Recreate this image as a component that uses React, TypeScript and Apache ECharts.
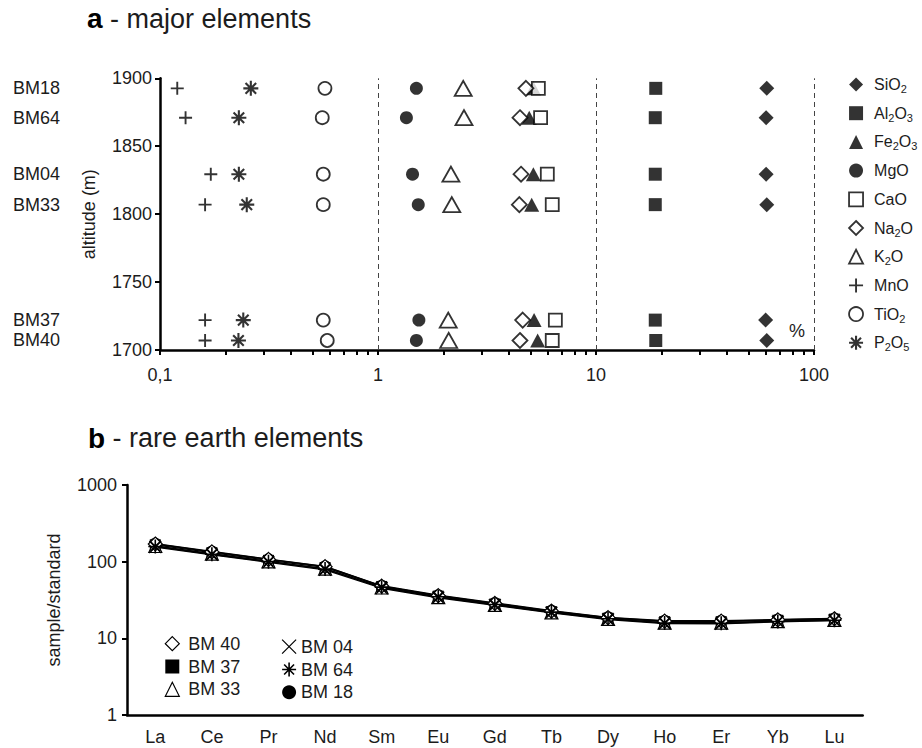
import React, { useEffect, useRef } from 'react';
import * as echarts from 'echarts';

// ---------- panel a: major elements (wt %) ----------
const samples = ['BM18', 'BM64', 'BM04', 'BM33', 'BM37', 'BM40'];
const altitudes = [1892.6, 1871, 1829.4, 1807, 1722, 1707];
const oxides = ['SiO2', 'Al2O3', 'Fe2O3', 'MgO', 'CaO', 'Na2O', 'K2O', 'MnO', 'TiO2', 'P2O5'];
const SiO2 = [60.7, 60.3, 60.3, 60.7, 60.0, 60.7];
const Al2O3 = [18.8, 18.7, 18.7, 18.7, 18.7, 18.8];
const Fe2O3 = [5.16, 4.94, 5.16, 5.07, 5.2, 5.4];
const MgO = [1.5, 1.35, 1.44, 1.53, 1.54, 1.5];
const CaO = [5.44, 5.57, 5.98, 6.3, 6.51, 6.3];
const Na2O = [4.77, 4.48, 4.53, 4.45, 4.61, 4.48];
const K2O = [2.46, 2.48, 2.16, 2.18, 2.1, 2.11];
const MnO = [0.12, 0.131, 0.171, 0.161, 0.161, 0.161];
const TiO2 = [0.571, 0.555, 0.561, 0.561, 0.561, 0.585];
const P2O5 = [0.261, 0.23, 0.23, 0.25, 0.241, 0.229];
const oxideValues = [SiO2, Al2O3, Fe2O3, MgO, CaO, Na2O, K2O, MnO, TiO2, P2O5];
const logTicks = [0.1, 0.2, 0.3, 0.4, 0.5, 0.6, 0.7, 0.8, 0.9, 1, 2, 3, 4, 5, 6, 7, 8, 9, 10, 20, 30, 40, 50, 60, 70, 80, 90, 100];
const decadeLines = [1, 10, 100];

// ---------- panel b: rare earth elements (sample/standard) ----------
const ree = ['La', 'Ce', 'Pr', 'Nd', 'Sm', 'Eu', 'Gd', 'Tb', 'Dy', 'Ho', 'Er', 'Yb', 'Lu'];
const reeSamples = ['BM 40', 'BM 37', 'BM 33', 'BM 04', 'BM 64', 'BM 18'];
const BM40 = [170, 134, 107, 86, 48, 36, 28.5, 22.6, 18.6, 16.8, 16.8, 17.4, 18.0];
const BM37 = [166, 131, 104, 84, 47.5, 35.5, 28, 22.3, 18.3, 16.5, 16.5, 17.2, 17.8];
const BM33 = [160, 127, 101, 81, 46, 34.5, 27.3, 21.8, 17.9, 16.0, 16.0, 16.8, 17.4];
const BM04 = [155, 123, 98, 78, 45, 33.8, 27, 21.5, 17.6, 15.6, 15.5, 16.4, 17.0];
const BM64 = [158, 125, 100, 80, 46.5, 34.8, 27.6, 22, 18, 15.8, 15.7, 16.6, 17.2];
const BM18 = [172, 136, 108, 87, 48.5, 36.5, 29, 23, 18.8, 17, 17, 17.6, 18.2];
const reeValues = [BM40, BM37, BM33, BM04, BM64, BM18];

const FONT = '"Liberation Sans", Arial, Helvetica, sans-serif';
const TXT = '#1c1c1c';

const PLUS = 'path://M0,-7L0,7M-7,0L7,0';
const STAR = 'path://M0,-7L0,7M-7,0L7,0M-4.95,-4.95L4.95,4.95M-4.95,4.95L4.95,-4.95';
const CROSS = 'path://M-6,-6L6,6M-6,6L6,-6';

const filled = { color: '#000', borderColor: '#000', borderWidth: 0 };
const open = { color: '#fff', borderColor: '#000', borderWidth: 1.8 };
const stroke = { color: 'rgba(0,0,0,0)', borderColor: '#000', borderWidth: 1.9 };

const oxideStyle: Record<string, { symbol: string; size: number | number[]; item: any }> = {
  SiO2: { symbol: 'diamond', size: 15, item: filled },
  Al2O3: { symbol: 'rect', size: 13, item: filled },
  Fe2O3: { symbol: 'triangle', size: [15, 14], item: filled },
  MgO: { symbol: 'circle', size: 13, item: filled },
  CaO: { symbol: 'rect', size: 13, item: open },
  Na2O: { symbol: 'diamond', size: 15, item: open },
  K2O: { symbol: 'triangle', size: [17, 15], item: open },
  MnO: { symbol: PLUS, size: 13, item: stroke },
  TiO2: { symbol: 'circle', size: 13, item: open },
  P2O5: { symbol: STAR, size: 15, item: { ...stroke, borderWidth: 2.1 } },
};

const reeStyle: Record<string, { symbol: string; size: number; item: any }> = {
  'BM 40': { symbol: 'diamond', size: 14, item: { color: '#fff', borderColor: '#000', borderWidth: 1.2 } },
  'BM 37': { symbol: 'rect', size: 11, item: filled },
  'BM 33': { symbol: 'triangle', size: 13, item: { color: '#fff', borderColor: '#000', borderWidth: 1.2 } },
  'BM 04': { symbol: CROSS, size: 12, item: { color: 'rgba(0,0,0,0)', borderColor: '#000', borderWidth: 1.2 } },
  'BM 64': { symbol: STAR, size: 14, item: { color: 'rgba(0,0,0,0)', borderColor: '#000', borderWidth: 1.6 } },
  'BM 18': { symbol: 'circle', size: 12, item: filled },
};

const subFormatter = (name: string) =>
  '{g|}' +
  name
    .split(/(\d)/)
    .filter((p) => p.length > 0)
    .map((p) => (/^\d$/.test(p) ? `{s|${p}}` : `{n|${p}}`))
    .join('');

export default function App() {
  const ref = useRef<HTMLDivElement>(null);

  useEffect(() => {
    document.body.style.margin = '0';
    if (!ref.current) return;
    const chart = echarts.init(ref.current, undefined, { renderer: 'svg' });

    const topSeries = oxides.map((ox, k) => {
      const s: any = {
        name: ox,
        type: 'scatter',
        xAxisIndex: 0,
        yAxisIndex: 0,
        symbol: oxideStyle[ox].symbol,
        symbolSize: oxideStyle[ox].size,
        itemStyle: oxideStyle[ox].item,
        data: samples.map((_, i) => [oxideValues[k][i], altitudes[i]]),
        z: 3,
      };
      if (k === 0) {
        s.markLine = {
          silent: true,
          symbol: 'none',
          label: { show: false },
          lineStyle: { color: '#444', width: 1, type: [5, 4] },
          data: decadeLines.map((v) => ({ xAxis: v })),
          z: 1,
        };
      }
      return s;
    });

    const bottomOrder = [1, 5, 2, 0, 3, 4];
    const bottomSeries = bottomOrder.map((k) => {
      const nm = reeSamples[k];
      return {
        name: nm,
        type: 'line',
        xAxisIndex: 1,
        yAxisIndex: 2,
        symbol: reeStyle[nm].symbol,
        symbolSize: reeStyle[nm].size,
        showAllSymbol: true,
        itemStyle: reeStyle[nm].item,
        lineStyle: { color: '#000', width: 1.3 },
        data: reeValues[k],
        z: 3,
      };
    });

    const legendItem = (name: string, st: any) => ({
      name,
      icon: st.symbol,
      itemStyle: st.item,
    });

    const titleStyle = (text: string, x: number, y: number) => ({
      type: 'text',
      x,
      y,
      style: {
        text,
        rich: {
          b: { fontSize: 28, fontWeight: 'bold', fontFamily: FONT, fill: '#000' },
        },
        fontSize: 27,
        fontFamily: FONT,
        fill: TXT,
        verticalAlign: 'middle',
      },
    });

    const option: any = {
      animation: false,
      textStyle: { fontFamily: FONT, color: TXT },
      graphic: [
        titleStyle('{b|a} - major elements', 87, 18.5),
        titleStyle('{b|b} - rare earth elements', 88, 438),
        {
          type: 'text',
          x: 789,
          y: 322,
          style: { text: '%', fontSize: 18, fontFamily: FONT, fill: TXT },
        },
      ],
      grid: [
        { left: 160, top: 78.3, width: 654, height: 271.7 },
        { left: 127, top: 485, width: 735.7, height: 230 },
      ],
      xAxis: [
        {
          type: 'log',
          gridIndex: 0,
          logBase: 10,
          min: 0.1,
          max: 100,
          axisLine: { lineStyle: { color: '#000', width: 2.5 } },
          axisTick: { show: true, customValues: logTicks, length: 5, lineStyle: { color: '#000', width: 2 } },
          minorTick: { show: false },
          splitLine: { show: false },
          axisLabel: {
            fontSize: 18,
            color: TXT,
            margin: 16,
            fontFamily: FONT,
            formatter: (v: number) => String(Number(v.toPrecision(6))).replace('.', ','),
          },
        },
        {
          type: 'category',
          gridIndex: 1,
          data: ree,
          boundaryGap: true,
          axisLine: { lineStyle: { color: '#000', width: 2.5 } },
          axisTick: { alignWithLabel: true, length: 6, lineStyle: { color: '#000', width: 2 } },
          axisLabel: { interval: 0, fontSize: 18, color: TXT, margin: 13, fontFamily: FONT },
          splitLine: { show: false },
        },
      ],
      yAxis: [
        {
          type: 'value',
          gridIndex: 0,
          min: 1700,
          max: 1900,
          interval: 50,
          name: 'altitude (m)',
          nameLocation: 'middle',
          nameGap: 62,
          nameTextStyle: { fontSize: 18, color: TXT, fontFamily: FONT },
          axisLine: { show: true, lineStyle: { color: '#000', width: 2.5 } },
          axisTick: { show: true, length: 5, lineStyle: { color: '#000', width: 2 } },
          axisLabel: { fontSize: 18, color: TXT, margin: 8, fontFamily: FONT, formatter: (v: number) => String(v) },
          splitLine: { show: false },
        },
        {
          type: 'value',
          gridIndex: 0,
          min: 1700,
          max: 1900,
          position: 'left',
          offset: 100,
          axisLine: { show: false },
          axisTick: { show: false },
          splitLine: { show: false },
          axisLabel: {
            customValues: altitudes,
            margin: 0,
            fontSize: 18,
            color: TXT,
            fontFamily: FONT,
            formatter: (v: number) => {
              const i = altitudes.findIndex((a) => Math.abs(a - v) < 0.05);
              return i >= 0 ? samples[i] : '';
            },
          },
        },
        {
          type: 'log',
          gridIndex: 1,
          logBase: 10,
          min: 1,
          max: 1000,
          name: 'sample/standard',
          nameLocation: 'middle',
          nameGap: 64,
          nameTextStyle: { fontSize: 18, color: TXT, fontFamily: FONT },
          axisLine: { show: true, lineStyle: { color: '#000', width: 2.5 } },
          axisTick: { show: true, length: 5, lineStyle: { color: '#000', width: 2 } },
          axisLabel: { fontSize: 18, color: TXT, margin: 10, fontFamily: FONT, formatter: (v: number) => String(Number(v.toPrecision(6))) },
          splitLine: { show: false },
          minorTick: { show: false },
        },
      ],
      legend: [
        {
          orient: 'vertical',
          left: 843,
          top: 69.5,
          itemWidth: 14,
          itemHeight: 14,
          itemGap: 8.7,
          selectedMode: false,
          data: oxides.map((o) => legendItem(o, oxideStyle[o])),
          formatter: subFormatter,
          textStyle: {
            color: TXT,
            fontFamily: FONT,
            lineHeight: 20,
            rich: {
              g: { width: 6, lineHeight: 20 },
              n: { fontSize: 16, lineHeight: 20, fontFamily: FONT, color: TXT },
              s: { fontSize: 11, lineHeight: 11, padding: [9, 0, 0, 0], fontFamily: FONT, color: TXT },
            },
          },
        },
        {
          orient: 'vertical',
          left: 159.7,
          top: 628.7,
          itemWidth: 14,
          itemHeight: 14,
          itemGap: 2.8,
          selectedMode: false,
          data: ['BM 40', 'BM 37', 'BM 33'].map((n) => legendItem(n, reeStyle[n])),
          formatter: (n: string) => `{g|}{t|${n}}`,
          textStyle: {
            fontSize: 18,
            lineHeight: 20,
            color: TXT,
            fontFamily: FONT,
            rich: {
              g: { width: 4, lineHeight: 20 },
              t: { fontSize: 18, lineHeight: 20, fontFamily: FONT, color: TXT },
            },
          },
        },
        {
          orient: 'vertical',
          left: 276.3,
          top: 631.7,
          itemWidth: 14,
          itemHeight: 14,
          itemGap: 2.8,
          selectedMode: false,
          data: ['BM 04', 'BM 64', 'BM 18'].map((n) => legendItem(n, reeStyle[n])),
          formatter: (n: string) => `{t|${n}}`,
          textStyle: {
            fontSize: 18,
            lineHeight: 20,
            color: TXT,
            fontFamily: FONT,
            rich: {
              t: { fontSize: 18, lineHeight: 20, fontFamily: FONT, color: TXT },
            },
          },
        },
      ],
      series: [...topSeries, ...bottomSeries],
    };

    chart.setOption(option);
    return () => chart.dispose();
  }, []);

  return <div ref={ref} style={{ width: 922, height: 748 }} />;
}
